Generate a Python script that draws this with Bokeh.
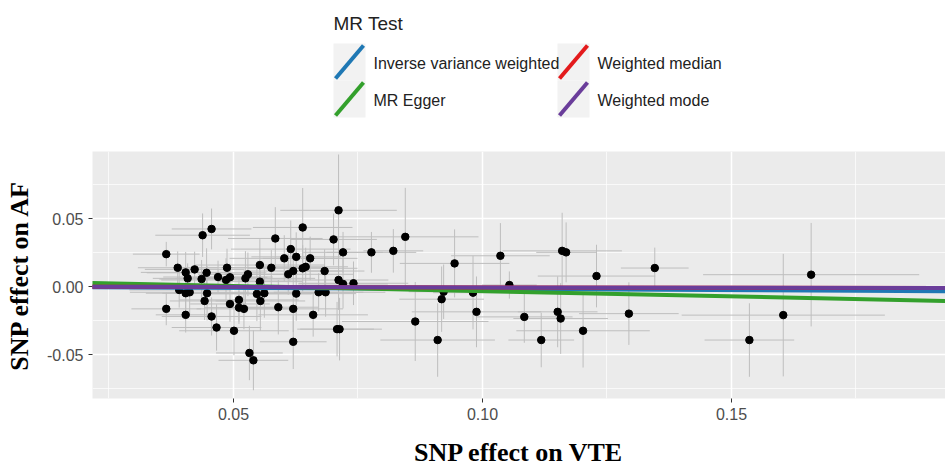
from bokeh.plotting import figure
from bokeh.models import FixedTicker, NumeralTickFormatter, Slope, ColumnDataSource, Range1d
from bokeh.layouts import column
from bokeh.embed import file_html
from bokeh.resources import INLINE
from bokeh.core.properties import value

# ---------------- data ----------------
snp_vte = [0.0365, 0.0388, 0.0404, 0.0408, 0.0422, 0.0438, 0.0456, 0.0446, 0.0436, 0.0469,
           0.0487, 0.0485, 0.0493, 0.0391, 0.0404, 0.0412, 0.0447, 0.0442, 0.0365, 0.0404,
           0.0456, 0.0466, 0.0501, 0.0493, 0.0511, 0.0511, 0.0521, 0.0524, 0.0529, 0.0553,
           0.0553, 0.0547, 0.0554, 0.0562, 0.0576, 0.0584, 0.0590, 0.0602, 0.0615, 0.0626,
           0.0610, 0.0620, 0.0639, 0.0639, 0.0645, 0.0654, 0.0626, 0.0620, 0.0620, 0.0660,
           0.0671, 0.0685, 0.0683, 0.0701, 0.0711, 0.0720, 0.0711, 0.0720, 0.0741, 0.0708,
           0.0713, 0.0777, 0.0532, 0.0540, 0.0821, 0.0845, 0.0865, 0.0918, 0.0922, 0.0910,
           0.0944, 0.0981, 0.0988, 0.1036, 0.1054, 0.1084, 0.1118, 0.1151, 0.1157, 0.1160,
           0.1168, 0.1202, 0.1229, 0.1294, 0.1346, 0.1660, 0.1604, 0.1536]
snp_af = [0.0239, 0.0139, 0.0105, 0.0061, 0.0127, 0.0378, 0.0424, 0.0102, 0.0056, 0.0071,
          0.0139, 0.0049, 0.0069, -0.0024, -0.0048, -0.0041, -0.0048, -0.0105, -0.0163, -0.0207,
          -0.0219, -0.0300, -0.0324, -0.0127, -0.0097, -0.0154, -0.0163, 0.0061, 0.0091, 0.0159,
          0.0037, -0.0053, -0.0105, -0.0048, 0.0139, 0.0354, -0.0151, 0.0208, 0.0276, 0.0219,
          0.0091, 0.0115, 0.0435, 0.0135, 0.0146, 0.0208, -0.0051, -0.0163, -0.0405, -0.0207,
          -0.0041, -0.0041, 0.0115, 0.0347, 0.0561, 0.0252, 0.0049, 0.0020, 0.0025, -0.0312,
          -0.0312, 0.0252, -0.0487, -0.0541, 0.0263, 0.0366, -0.0256, -0.0092, -0.0037, -0.0392,
          0.0171, -0.0044, -0.0185, 0.0227, 0.0012, -0.0222, -0.0392, -0.0185, -0.0234, 0.0263,
          0.0252, -0.0324, 0.0078, -0.0198, 0.0137, 0.0088, -0.0209, -0.0392]
se_vte = [0.0067, 0.0080, 0.0090, 0.0070, 0.0100, 0.0095, 0.0080, 0.0120, 0.0085, 0.0110,
          0.0090, 0.0130, 0.0075, 0.0100, 0.0080, 0.0120, 0.0090, 0.0070, 0.0070, 0.0060,
          0.0100, 0.0090, 0.0110, 0.0080, 0.0120, 0.0070, 0.0095, 0.0140, 0.0100, 0.0130,
          0.0085, 0.0110, 0.0090, 0.0120, 0.0100, 0.0095, 0.0080, 0.0110, 0.0120, 0.0090,
          0.0130, 0.0100, 0.0100, 0.0110, 0.0085, 0.0095, 0.0120, 0.0100, 0.0067, 0.0110,
          0.0090, 0.0120, 0.0080, 0.0087, 0.0117, 0.0080, 0.0100, 0.0090, 0.0110, 0.0074,
          0.0085, 0.0090, 0.0067, 0.0070, 0.0060, 0.0147, 0.0147, 0.0085, 0.0070, 0.0115,
          0.0110, 0.0080, 0.0130, 0.0099, 0.0055, 0.0097, 0.0066, 0.0080, 0.0095, 0.0120,
          0.0060, 0.0134, 0.0118, 0.0100, 0.0068, 0.0217, 0.0204, 0.0090]
se_af = [0.009, 0.012, 0.015, 0.011, 0.013, 0.016, 0.015, 0.018, 0.014, 0.012,
         0.014, 0.016, 0.010, 0.013, 0.012, 0.017, 0.020, 0.014, 0.012, 0.013,
         0.014, 0.017, 0.018, 0.013, 0.016, 0.012, 0.015, 0.020, 0.016, 0.019,
         0.015, 0.020, 0.022, 0.018, 0.013, 0.023, 0.020, 0.017, 0.021, 0.018,
         0.015, 0.016, 0.029, 0.017, 0.014, 0.016, 0.020, 0.017, 0.020, 0.016,
         0.014, 0.018, 0.016, 0.019, 0.041, 0.015, 0.022, 0.018, 0.016, 0.020,
         0.023, 0.015, 0.020, 0.022, 0.016, 0.036, 0.029, 0.024, 0.020, 0.027,
         0.025, 0.027, 0.026, 0.024, 0.010, 0.019, 0.020, 0.026, 0.026, 0.028,
         0.022, 0.027, 0.023, 0.023, 0.015, 0.038, 0.045, 0.027]

methods = ["Inverse variance weighted", "MR Egger", "Weighted median", "Weighted mode"]
intercepts = [0.0, 0.0044, 0.0, 0.0]
slopes = [-0.017, -0.077, -0.0055, -0.005]
colors = ["#1f78b4", "#33a02c", "#e31a1c", "#6a3d9a"]

x_ticks = [0.05, 0.10, 0.15]
x_minor = [0.025, 0.075, 0.125, 0.175]
y_ticks = [-0.05, 0.0, 0.05]
y_minor = [-0.075, -0.025, 0.025, 0.075]

legend_title = "MR Test"
x_title = "SNP effect on VTE"
y_title = "SNP effect on AF"

# ---------------- legend panel (its ranges are page pixels) ----------------
LEG_H = 130
LEFT = 92
lf = figure(width=945, height=LEG_H, output_backend="svg", toolbar_location=None,
            x_range=Range1d(LEFT, 945), y_range=Range1d(LEG_H, 0),
            x_axis_location=None, y_axis_location=None,
            min_border_left=LEFT, min_border_right=0, min_border_top=0, min_border_bottom=0,
            outline_line_color=None, background_fill_color="white", border_fill_color="white")
lf.grid.visible = False

key_left = [333, 333, 557, 557]
key_top = [43, 80, 43, 80]
key_w, key_h = 32, 37
lsrc = ColumnDataSource(dict(
    cx=[k + key_w / 2 for k in key_left],
    cy=[t + key_h / 2 for t in key_top],
    x0=[k + 2 for k in key_left], y0=[t + key_h - 2 for t in key_top],
    x1=[k + key_w - 2 for k in key_left], y1=[t + 2 for t in key_top],
    tx=[k + 40 for k in key_left], ty=[t + 20 for t in key_top],
    label=methods, color=colors))
lf.rect(x="cx", y="cy", width=key_w, height=key_h, source=lsrc,
        fill_color="#F2F2F2", line_color=None)
lf.segment(x0="x0", y0="y0", x1="x1", y1="y1", source=lsrc, line_color="color", line_width=4)
lf.text(x="tx", y="ty", text="label", source=lsrc, text_font=value("Liberation Sans"),
        text_font_size="16px", text_color="#222222", text_baseline="middle")
lf.text(x=[333], y=[23], text=[legend_title], text_font=value("Liberation Sans"),
        text_font_size="19px", text_color="#222222", text_baseline="middle")

# ---------------- main panel ----------------
p = figure(width=945, height=469 - LEG_H, output_backend="svg", toolbar_location=None,
           x_range=Range1d(0.02169, 0.19298), y_range=Range1d(-0.08215, 0.0993),
           min_border_left=LEFT, min_border_right=0, min_border_top=21, min_border_bottom=70,
           background_fill_color="#EBEBEB", border_fill_color="white", outline_line_color=None)

src = ColumnDataSource(dict(
    x=snp_vte, y=snp_af,
    xl=[a - s for a, s in zip(snp_vte, se_vte)], xh=[a + s for a, s in zip(snp_vte, se_vte)],
    yl=[a - s for a, s in zip(snp_af, se_af)], yh=[a + s for a, s in zip(snp_af, se_af)]))

p.segment(x0="x", y0="yl", x1="x", y1="yh", source=src, line_color="#BEBEBE", line_width=1)
p.segment(x0="xl", y0="y", x1="xh", y1="y", source=src, line_color="#BEBEBE", line_width=1)
p.scatter(x="x", y="y", source=src, size=7.5, fill_color="black", line_color="black")

for m, a, b, c in zip(methods, intercepts, slopes, colors):
    p.add_layout(Slope(gradient=b, y_intercept=a, line_color=c, line_width=4))

p.xaxis.ticker = FixedTicker(ticks=x_ticks, minor_ticks=x_minor)
p.yaxis.ticker = FixedTicker(ticks=y_ticks, minor_ticks=y_minor)
p.axis.formatter = NumeralTickFormatter(format="0.00")

p.grid.grid_line_color = "white"
p.grid.grid_line_width = 1.5
p.grid.minor_grid_line_color = "white"
p.grid.minor_grid_line_width = 0.7

p.axis.axis_line_color = None
p.axis.major_tick_line_color = "#333333"
p.axis.major_tick_in = 0
p.axis.major_tick_out = 4
p.axis.minor_tick_line_color = None
p.axis.major_label_text_color = "#4D4D4D"
p.axis.major_label_text_font = "Liberation Sans"
p.axis.major_label_text_font_size = "16px"
p.axis.major_label_standoff = 5
p.axis.axis_label_text_font = "Liberation Serif"
p.axis.axis_label_text_font_style = "bold"
p.axis.axis_label_text_font_size = "26px"
p.axis.axis_label_text_color = "black"
p.xaxis.axis_label = x_title
p.yaxis.axis_label = y_title
p.xaxis.axis_label_standoff = 15
p.yaxis.axis_label_standoff = 10

layout = column(lf, p, spacing=0)
open("out.html", "w").write(file_html(layout, INLINE))
